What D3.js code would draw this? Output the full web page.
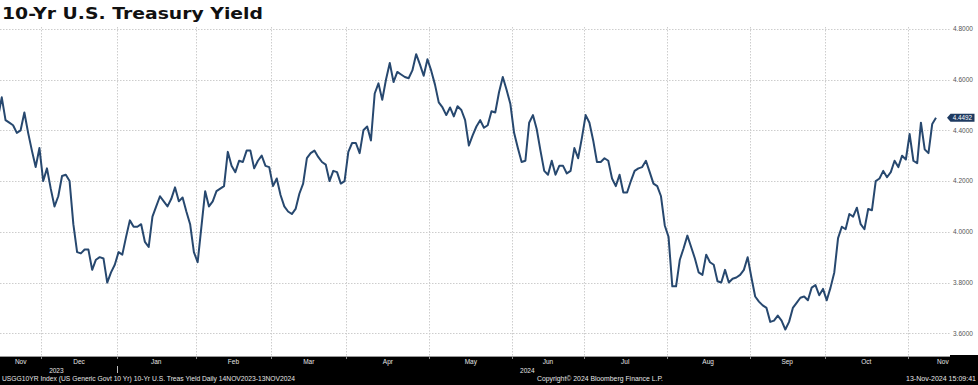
<!DOCTYPE html>
<html>
<head>
<meta charset="utf-8">
<script src="https://cdn.jsdelivr.net/npm/d3@7"></script>
<style>
  html, body { margin: 0; padding: 0; background: #fff; }
  svg { display: block; }
</style>
</head>
<body>
<svg id="chart" width="978" height="385"></svg>
<script>
// USGG10YR, daily closes 14NOV2023-13NOV2024 (trading sessions only)
const TITLE = '10-Yr U.S. Treasury Yield';
const FIRST_DAY = '2023-11-14';
const LAST_DAY = '2024-11-13';

// bond market closed on these weekdays
const holidays = [
    '2023-11-23', '2023-12-25', '2024-01-01', '2024-01-15', '2024-02-19',
    '2024-03-29', '2024-05-27', '2024-06-19', '2024-07-04', '2024-09-02',
    '2024-10-14', '2024-11-11',
];

// yields, one per session, month by month
const yieldsNov23 = [4.45, 4.53, 4.44, 4.43, 4.42, 4.39, 4.40, 4.47, 4.39, 4.32, 4.255, 4.33];
const yieldsDec23 = [4.20, 4.25, 4.17, 4.10, 4.14, 4.22, 4.225, 4.20, 4.03, 3.92, 3.915, 3.93,
                     3.93, 3.85, 3.89, 3.90, 3.895, 3.80, 3.84, 3.87];
const yieldsJan24 = [3.92, 3.91, 3.98, 4.045, 4.02, 4.02, 4.03, 3.96, 3.94, 4.06, 4.10, 4.14,
                     4.12, 4.10, 4.13, 4.175, 4.12, 4.135, 4.08, 4.03, 3.92];
const yieldsFeb24 = [3.88, 4.02, 4.16, 4.10, 4.12, 4.16, 4.17, 4.18, 4.315, 4.26, 4.235, 4.28,
                     4.275, 4.32, 4.32, 4.25, 4.28, 4.30, 4.26, 4.255];
const yieldsMar24 = [4.18, 4.21, 4.145, 4.10, 4.08, 4.07, 4.09, 4.15, 4.19, 4.29, 4.31, 4.32,
                     4.295, 4.275, 4.265, 4.20, 4.24, 4.235, 4.19, 4.20];
const yieldsApr24 = [4.315, 4.35, 4.35, 4.31, 4.40, 4.415, 4.36, 4.545, 4.585, 4.52, 4.60, 4.665,
                     4.59, 4.63, 4.62, 4.61, 4.605, 4.636, 4.70, 4.66, 4.615, 4.68];
const yieldsMay24 = [4.635, 4.58, 4.51, 4.49, 4.46, 4.49, 4.455, 4.495, 4.48, 4.44, 4.34, 4.38,
                     4.415, 4.44, 4.41, 4.42, 4.475, 4.47, 4.55, 4.61, 4.56, 4.505];
const yieldsJun24 = [4.39, 4.33, 4.275, 4.28, 4.43, 4.46, 4.405, 4.32, 4.24, 4.225, 4.28, 4.225,
                     4.26, 4.26, 4.23, 4.24, 4.33, 4.29, 4.37];
const yieldsJul24 = [4.46, 4.43, 4.36, 4.275, 4.275, 4.29, 4.28, 4.21, 4.18, 4.225, 4.155, 4.155,
                     4.20, 4.24, 4.25, 4.255, 4.28, 4.235, 4.19, 4.18, 4.14, 4.025];
const yieldsAug24 = [3.98, 3.785, 3.785, 3.89, 3.935, 3.985, 3.94, 3.895, 3.84, 3.83, 3.91, 3.88,
                     3.87, 3.805, 3.80, 3.85, 3.80, 3.815, 3.82, 3.83, 3.85, 3.90];
const yieldsSep24 = [3.82, 3.745, 3.725, 3.71, 3.70, 3.645, 3.65, 3.67, 3.65, 3.615, 3.645, 3.70,
                     3.72, 3.74, 3.745, 3.73, 3.78, 3.79, 3.75, 3.775];
const yieldsOct24 = [3.73, 3.78, 3.84, 3.975, 4.02, 4.01, 4.07, 4.06, 4.095, 4.03, 4.01, 4.09,
                     4.085, 4.20, 4.21, 4.24, 4.215, 4.235, 4.28, 4.255, 4.30, 4.285];
const yieldsNov24 = [4.385, 4.28, 4.27, 4.43, 4.325, 4.31, 4.425, 4.4492];

const yTicks = [3.6, 3.8, 4.0, 4.2, 4.4, 4.6, 4.8];

const FOOTER_LEFT = 'USGG10YR Index (US Generic Govt 10 Yr) 10-Yr U.S. Treas Yield  Daily 14NOV2023-13NOV2024';
const FOOTER_MID = 'Copyright\u00A9 2024 Bloomberg Finance L.P.';
const FOOTER_RIGHT = '13-Nov-2024 15:09:41';

const W = 978;
const H = 385;
const PLOT_TOP = 27;
const PLOT_BOTTOM = 356;
const GRID_RIGHT = 951;
const BAND_TOP = 357;
const SMALL_FONT = "'Liberation Sans', Arial, sans-serif";

const parseDay = d3.utcParse('%Y-%m-%d');
const fmtDay = d3.utcFormat('%Y-%m-%d');
const fmtMonthKey = d3.utcFormat('%Y-%m');
const fmtMonth = d3.utcFormat('%b');
const fmtYear = d3.utcFormat('%Y');

const sessions = d3.utcDays(parseDay(FIRST_DAY), d3.utcDay.offset(parseDay(LAST_DAY), 1))
    .filter(d => d.getUTCDay() % 6 !== 0 && !holidays.includes(fmtDay(d)));

const yields = [].concat(yieldsNov23, yieldsDec23, yieldsJan24, yieldsFeb24, yieldsMar24,
    yieldsApr24, yieldsMay24, yieldsJun24, yieldsJul24, yieldsAug24, yieldsSep24,
    yieldsOct24, yieldsNov24);

const data = sessions.map((d, i) => ({ date: d, i, v: yields[i] }));

const x = d3.scaleLinear()
    .domain([0, data.length - 1])
    .range([-2, 936]);

const y = d3.scaleLinear()
    .domain([3.6, 4.8])
    .range([333.3, 28.8]);

const svg = d3.select('#chart');

svg.append('rect')
    .attr('width', W)
    .attr('height', H)
    .attr('fill', '#fff');

// month and year groups on the session index
function spans(keyFn) {
    return d3.groups(data, d => keyFn(d.date)).map(([key, rows]) => ({
        key,
        date: rows[0].date,
        x0: x(rows[0].i - 0.5),
        x1: x(rows[rows.length - 1].i + 0.5),
    }));
}
const months = spans(fmtMonthKey);
const years = spans(fmtYear);

// grid
const grid = svg.append('g')
    .attr('stroke', '#cdcdcd')
    .attr('stroke-width', 1)
    .attr('stroke-dasharray', '1.5,1.5');

grid.selectAll('line.h')
    .data(yTicks)
    .join('line')
    .attr('class', 'h')
    .attr('x1', 0)
    .attr('x2', GRID_RIGHT)
    .attr('y1', d => Math.round(y(d)) + 0.5)
    .attr('y2', d => Math.round(y(d)) + 0.5);

grid.selectAll('line.v')
    .data(months.slice(1))
    .join('line')
    .attr('class', 'v')
    .attr('x1', d => Math.round(d.x0) + 0.5)
    .attr('x2', d => Math.round(d.x0) + 0.5)
    .attr('y1', PLOT_TOP)
    .attr('y2', PLOT_BOTTOM);

// right axis labels
svg.append('g')
    .selectAll('text')
    .data(yTicks)
    .join('text')
    .attr('x', 953)
    .attr('y', d => y(d))
    .attr('dy', '0.35em')
    .attr('font-family', SMALL_FONT)
    .attr('font-size', 6.5)
    .attr('fill', '#555')
    .text(d => d3.format('.4f')(d));

// the series
svg.append('path')
    .datum(data)
    .attr('fill', 'none')
    .attr('stroke', '#27486f')
    .attr('stroke-width', 2)
    .attr('stroke-linejoin', 'round')
    .attr('d', d3.line().x(d => x(d.i)).y(d => y(d.v)));

// last value tag
const last = data[data.length - 1];
const ty = y(last.v);
svg.append('path')
    .attr('d', `M947,${ty} L950.5,${ty - 4} H974.5 V${ty + 4} H950.5 Z`)
    .attr('fill', '#1e3a61');
svg.append('text')
    .attr('x', 962.5)
    .attr('y', ty)
    .attr('dy', '0.35em')
    .attr('text-anchor', 'middle')
    .attr('font-family', SMALL_FONT)
    .attr('font-size', 6.3)
    .attr('fill', '#fff')
    .text(d3.format('.4f')(last.v));

// bottom band
svg.append('line')
    .attr('x1', 0).attr('x2', W)
    .attr('y1', PLOT_BOTTOM + 0.5).attr('y2', PLOT_BOTTOM + 0.5)
    .attr('stroke', '#999');
svg.append('rect')
    .attr('x', 0).attr('y', BAND_TOP)
    .attr('width', W).attr('height', H - BAND_TOP)
    .attr('fill', '#000');
svg.append('rect')
    .attr('x', 950).attr('y', BAND_TOP - 2)
    .attr('width', W - 950).attr('height', 3)
    .attr('fill', '#000');

svg.append('g')
    .attr('stroke', '#888')
    .selectAll('line')
    .data(months.slice(1))
    .join('line')
    .attr('x1', d => Math.round(d.x0) + 0.5)
    .attr('x2', d => Math.round(d.x0) + 0.5)
    .attr('y1', BAND_TOP)
    .attr('y2', BAND_TOP + 2);

const band = svg.append('g')
    .attr('font-family', SMALL_FONT)
    .attr('font-size', 6.5)
    .attr('fill', '#e6e6e6');

band.selectAll('text.month')
    .data(months)
    .join('text')
    .attr('class', 'month')
    .attr('x', (d, i) => {
        const left = Math.max(0, d.x0);
        const right = i === months.length - 1 ? W : Math.min(W, d.x1);
        return (left + right) / 2;
    })
    .attr('y', 364)
    .attr('text-anchor', 'middle')
    .text(d => fmtMonth(d.date));

band.selectAll('text.year')
    .data(years)
    .join('text')
    .attr('class', 'year')
    .attr('x', d => (d.x0 + d.x1) / 2)
    .attr('y', 372.5)
    .attr('text-anchor', 'middle')
    .text(d => d.key);

band.selectAll('line.year')
    .data(years.slice(1))
    .join('line')
    .attr('class', 'year')
    .attr('x1', d => Math.round(d.x0) + 0.5)
    .attr('x2', d => Math.round(d.x0) + 0.5)
    .attr('y1', 366)
    .attr('y2', 373)
    .attr('stroke', '#bbb');

band.append('text')
    .attr('x', 2)
    .attr('y', 381)
    .attr('textLength', 293)
    .attr('lengthAdjust', 'spacingAndGlyphs')
    .text(FOOTER_LEFT);

band.append('text')
    .attr('x', 537)
    .attr('y', 381)
    .attr('textLength', 126)
    .attr('lengthAdjust', 'spacingAndGlyphs')
    .text(FOOTER_MID);

band.append('text')
    .attr('x', 906)
    .attr('y', 381)
    .attr('textLength', 70)
    .attr('lengthAdjust', 'spacingAndGlyphs')
    .text(FOOTER_RIGHT);

// title
svg.append('text')
    .attr('x', 2)
    .attr('y', 18.5)
    .attr('font-family', "'DejaVu Sans', Verdana, sans-serif")
    .attr('font-weight', 'bold')
    .attr('font-size', 16.5)
    .attr('fill', '#111')
    .attr('textLength', 261)
    .attr('lengthAdjust', 'spacingAndGlyphs')
    .text(TITLE);
</script>
</body>
</html>
